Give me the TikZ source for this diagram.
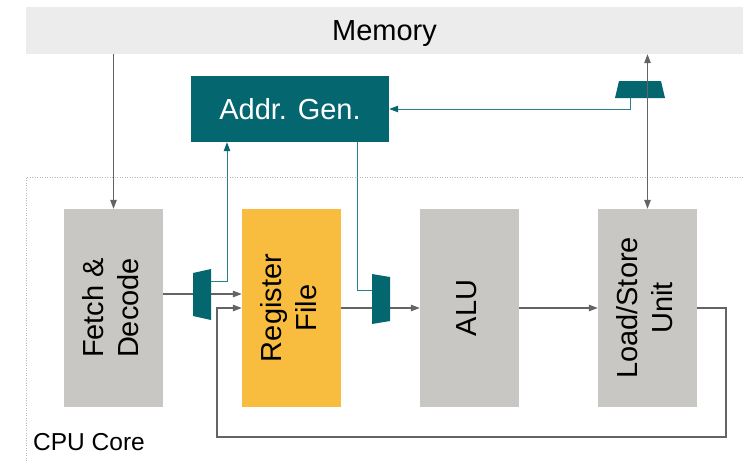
\documentclass[tikz,border=0pt]{standalone}
\usepackage{fontspec}
\setmainfont{Liberation Sans}
\usetikzlibrary{arrows.meta}
\definecolor{tealc}{RGB}{4,103,112}
\definecolor{tealline}{RGB}{40,128,136}
\definecolor{boxgray}{RGB}{200,199,195}
\definecolor{regyellow}{RGB}{248,188,62}
\definecolor{memgray}{RGB}{236,236,236}
\definecolor{linegray}{RGB}{100,100,100}
\definecolor{dotgray}{RGB}{185,185,185}
\newcommand{\vtext}[1]{\rotatebox{90}{\begin{tabular}{@{}c@{}}#1\end{tabular}}}
\begin{document}
\begin{tikzpicture}[x=1pt,y=-1pt,
  bigfont/.style={font=\fontsize{29}{35}\selectfont},
  unitbox/.style={draw=none,fill=boxgray,minimum width=99pt,minimum height=198pt,inner sep=0pt,bigfont},
  garrow/.style={draw=linegray,line width=1.1pt,-{Triangle[length=9pt,width=6.5pt]}},
  tarrow/.style={draw=tealline,line width=1pt,arrows={-{Triangle[length=9pt,width=6.5pt,color=tealc]}}},
  tline/.style={draw=tealline,line width=1pt},
  mux/.style={fill=tealc}]
\useasboundingbox (0,0) rectangle (743,461);
% CPU core dotted frame
\draw[dotgray,line width=1pt,dash pattern=on 1pt off 1.5pt] (26,461) -- (26,177) -- (743,177);
\node[anchor=base west,inner sep=0pt,font=\fontsize{24.5}{28}\selectfont] (cpu) at (33,450) {CPU Core};
% Memory
\node[fill=memgray,minimum width=717pt,minimum height=47pt,inner sep=0pt,bigfont,text depth=0pt] (mem) at (384.5,30.5) {Memory};
% Addr gen
\node[fill=tealc,text=white,minimum width=198pt,minimum height=66pt,inner sep=0pt,bigfont] (addr) at (290,109) {Addr. Gen.};
% units
\node[unitbox] (fetch) at (113.5,308) {\vtext{Fetch \&\\Decode}};
\node[unitbox,fill=regyellow] (reg) at (291.5,308) {\vtext{Register\\File}};
\node[unitbox] (alu) at (469.5,308) {\vtext{ALU}};
\node[unitbox] (lsu) at (647.5,308) {\vtext{Load/Store\\Unit}};
% coordinates
\coordinate (m1out) at (211,281);
\coordinate (m2in) at (372,290);
\coordinate (m3out) at (630,98);
% memory connections
\draw[garrow] (fetch.north |- mem.south) -- (fetch.north);
% fetch -> reg
\draw[garrow] (fetch.east |- 0,294) -- (reg.west |- 0,294);
% reg -> alu
\draw[garrow] (reg.east) -- (alu.west);
% alu -> lsu
\draw[garrow] (alu.east) -- (lsu.west);
% feedback
\draw[garrow] (lsu.east) -- (726,308) |- (217,437) |- (reg.west);
% teal connectors
\draw[tarrow] (m1out) -| (addr.south -| 227,0);
\draw[tline] (addr.south -| 357,0) |- (m2in);
\draw[tarrow] (m3out) |- (addr.east);
% muxes
\fill[mux] (193,273) -- (211,269) -- (211,320) -- (193,316) -- cycle;
\fill[mux] (372,274) -- (390,277) -- (390,321) -- (372,324) -- cycle;
\fill[mux] (619,81) -- (661,81) -- (665,98) -- (615,98) -- cycle;
% LSU <-> memory (drawn over mux)
\draw[garrow,{Triangle[length=9pt,width=6.5pt]}-{Triangle[length=9pt,width=6.5pt]}] (lsu.north |- mem.south) -- (lsu.north);
\end{tikzpicture}
\end{document}
